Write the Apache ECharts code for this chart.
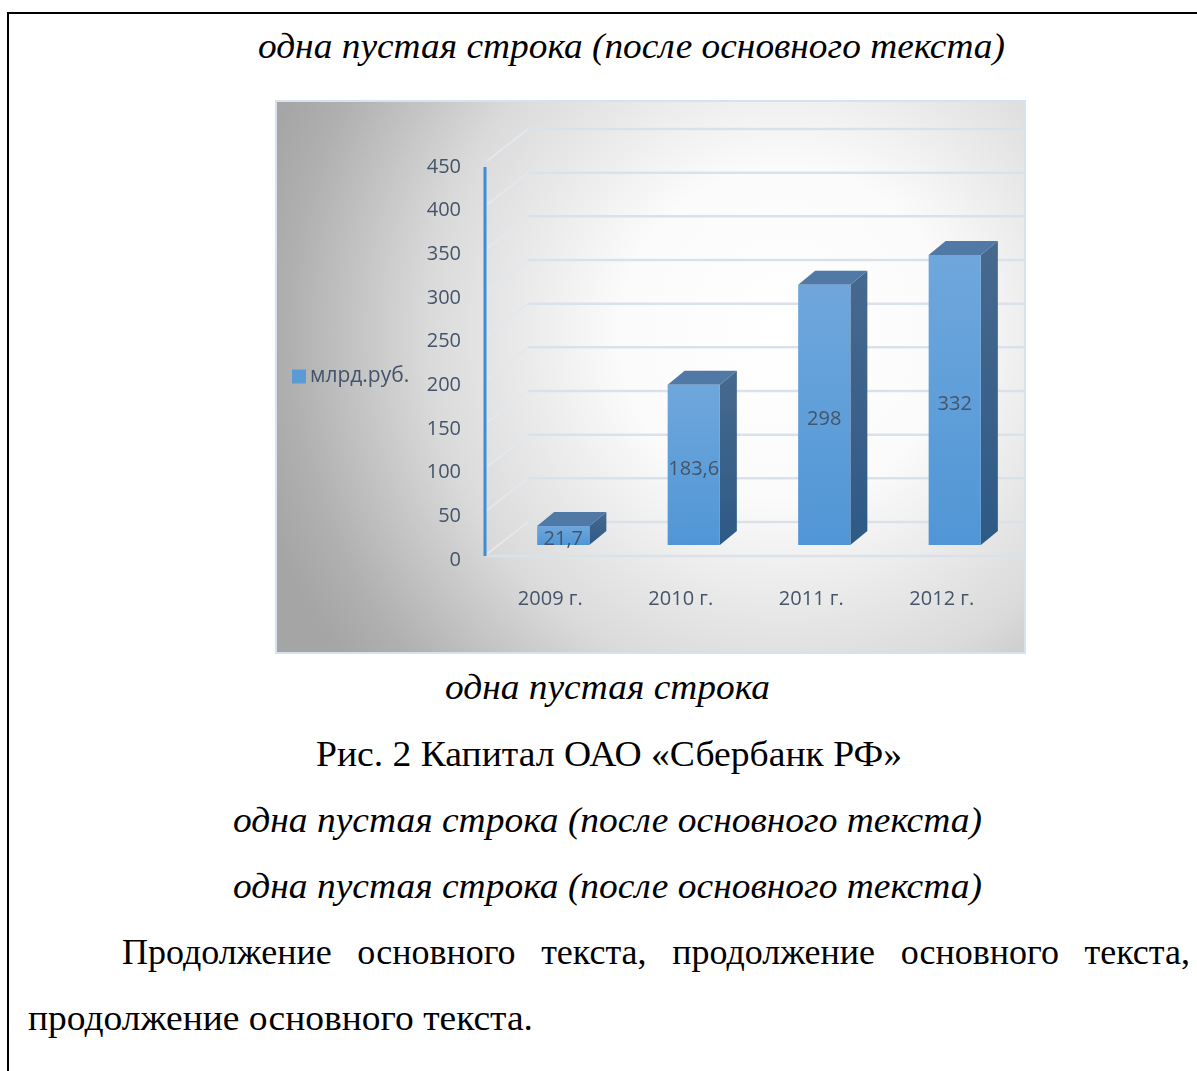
<!DOCTYPE html>
<html>
<head>
<meta charset="utf-8">
<script src="https://cdn.jsdelivr.net/npm/echarts@6/dist/echarts.min.js"></script>
<style>
  html, body { margin: 0; padding: 0; background: #ffffff; width: 1197px; height: 1071px; overflow: hidden; }
  #frame { position: absolute; left: 7px; top: 12px; width: 1300px; height: 1200px; border-top: 2px solid #000; border-left: 2px solid #000; }
  .ln { position: absolute; white-space: nowrap; font-family: "Liberation Serif", "Times New Roman", serif; font-size: 36px; line-height: normal; color: #000; transform-origin: 0 0; }
  .it { font-style: italic; }
  #chartBox { position: absolute; left: 275px; top: 100px; width: 751px; height: 554px; box-sizing: border-box; border: 2px solid #d6e2ee; }
  #chart { width: 747px; height: 550px; }
</style>
</head>
<body>
<div id="frame"></div>
<div id="chartBox"><div id="chart"></div></div>

<script>
// ---- chart data ----
const categories = ['2009 г.', '2010 г.', '2011 г.', '2012 г.'];
const values = [21.7, 183.6, 298, 332];
const seriesName = 'млрд.руб.';
const yTicks = [0, 50, 100, 150, 200, 250, 300, 350, 400, 450];

// ---- document text lines ----
const textLines = [
  { text: 'одна пустая строка (после основного текста)', italic: true, left: 258, right: 1005, baseline: 57 },
  { text: 'одна пустая строка', italic: true, left: 445, right: 770, baseline: 698 },
  { text: 'Рис. 2 Капитал ОАО «Сбербанк РФ»', italic: false, left: 316, right: 902, baseline: 765 },
  { text: 'одна пустая строка (после основного текста)', italic: true, left: 233, right: 982, baseline: 831 },
  { text: 'одна пустая строка (после основного текста)', italic: true, left: 233, right: 982, baseline: 897 },
  { text: 'Продолжение основного текста, продолжение основного текста,', italic: false, left: 122, right: 1190, baseline: 963, justify: true },
  { text: 'продолжение основного текста.', italic: false, left: 28, right: 533, baseline: 1029 }
];

textLines.forEach(function (l) {
  const d = document.createElement('div');
  d.className = 'ln' + (l.italic ? ' it' : '');
  d.textContent = l.text;
  d.style.left = l.left + 'px';
  d.style.top = (l.baseline - 32) + 'px';
  document.body.appendChild(d);
  const target = l.right - l.left;
  const natural = d.getBoundingClientRect().width;
  if (l.justify) {
    const spaces = (l.text.match(/ /g) || []).length;
    if (natural < target && spaces > 0) {
      d.style.wordSpacing = ((target - natural) / spaces) + 'px';
    } else {
      d.style.transform = 'scaleX(' + (target / natural) + ')';
    }
  } else {
    d.style.transform = 'scaleX(' + (target / natural) + ')';
  }
});

// ---- chart ----
const chart = echarts.init(document.getElementById('chart'), null, { renderer: 'canvas' });
const FONT = '"Open Sans", "Noto Sans", sans-serif';
const TXT = '#44546a';

// depth offsets (pixels) of the bar plane and back wall relative to the front axis plane
const BAR_OX = 13, BAR_OY = -15;
const BACK_OX = 43, BACK_OY = -38;
const FLOOR_OY = -4;
const SIDE_DX = 17, SIDE_DY = -14;

function fmt(v) { return String(v).replace('.', ','); }

chart.setOption({
  backgroundColor: new echarts.graphic.RadialGradient(0.68, 0.42, 1.0, [
    { offset: 0, color: '#ffffff' },
    { offset: 0.3, color: '#fbfbfb' },
    { offset: 0.65, color: '#dadada' },
    { offset: 0.9, color: '#b0b0b0' },
    { offset: 1, color: '#a5a5a5' }
  ]),
  animation: false,
  legend: {
    show: true,
    left: 15,
    top: 264,
    padding: 0,
    orient: 'vertical',
    itemWidth: 14,
    itemHeight: 14,
    icon: 'rect',
    itemGap: 6,
    textStyle: { fontFamily: FONT, fontSize: 21, color: TXT, padding: [0, 0, 0, -1] },
    data: [seriesName]
  },
  grid: { left: 208, top: 65, height: 393, width: 522 },
  xAxis: {
    type: 'category',
    data: categories,
    axisLine: { show: false },
    axisTick: { show: false },
    axisLabel: { margin: 29, fontFamily: FONT, fontSize: 20, color: TXT }
  },
  yAxis: {
    type: 'value',
    min: 0,
    max: 450,
    interval: 50,
    axisLine: { show: false },
    axisTick: { show: false },
    splitLine: { show: false },
    axisLabel: { margin: 24, fontFamily: FONT, fontSize: 20, color: TXT }
  },
  series: [
    {
      type: 'custom',
      name: 'grid',
      silent: true,
      z: 1,
      data: yTicks.map(function (t) { return [0, t]; }),
      encode: { x: 0, y: 1 },
      renderItem: function (params, api) {
        const v = api.value(1);
        const p = api.coord([0, v]);
        const gx = params.coordSys.x;
        const W = api.getWidth();
        const y = p[1];
        const children = [
          { type: 'line', shape: { x1: gx + BACK_OX, y1: y + BACK_OY, x2: W, y2: y + BACK_OY },
            style: { stroke: '#dbe1e9', lineWidth: 2.5 } },
          { type: 'line', shape: { x1: gx + BACK_OX, y1: y + BACK_OY, x2: gx + 2, y2: y + FLOOR_OY - 2 },
            style: { stroke: '#e3e8ee', lineWidth: 2 } }
        ];
        if (v === 0) {
          children.push({ type: 'line', shape: { x1: gx, y1: y + FLOOR_OY, x2: W, y2: y + FLOOR_OY },
            style: { stroke: '#dbe1e9', lineWidth: 2.5 } });
          children.push({ type: 'line', z2: 10, shape: { x1: gx, y1: y + FLOOR_OY, x2: gx, y2: params.coordSys.y },
            style: { stroke: '#3a8dd6', lineWidth: 3 } });
        }
        return { type: 'group', children: children };
      }
    },
    {
      type: 'custom',
      name: seriesName,
      z: 3,
      itemStyle: { color: '#5b9bd5' },
      data: values.map(function (v, i) { return [i, v]; }),
      encode: { x: 0, y: 1 },
      renderItem: function (params, api) {
        const idx = api.value(0), v = api.value(1);
        const base = api.coord([idx, 0]);
        const top = api.coord([idx, v]);
        const bw = api.size([1, 0])[0] * 0.4;
        const xl = base[0] + BAR_OX - bw / 2, xr = xl + bw;
        const yb = base[1] + BAR_OY, yt = top[1] + BAR_OY;
        const frontGrad = new echarts.graphic.LinearGradient(0, 0, 0, 1, [
          { offset: 0, color: '#6fa7dc' }, { offset: 1, color: '#5096d6' }
        ]);
        const sideGrad = new echarts.graphic.LinearGradient(0, 0, 0, 1, [
          { offset: 0, color: '#47698e' }, { offset: 1, color: '#2e5a86' }
        ]);
        return {
          type: 'group',
          children: [
            { type: 'polygon', shape: { points: [[xr, yt], [xr + SIDE_DX, yt + SIDE_DY], [xr + SIDE_DX, yb + SIDE_DY], [xr, yb]] },
              style: { fill: sideGrad } },
            { type: 'polygon', shape: { points: [[xl, yt], [xr, yt], [xr + SIDE_DX, yt + SIDE_DY], [xl + SIDE_DX, yt + SIDE_DY]] },
              style: { fill: '#5179a6' } },
            { type: 'rect', shape: { x: xl, y: yt, width: bw, height: yb - yt },
              style: { fill: frontGrad } },
            { type: 'text', x: xl + bw / 2, y: (yt + yb) / 2 + 4,
              style: { text: fmt(v), fontFamily: FONT, fontSize: 20, fill: TXT, align: 'center', verticalAlign: 'middle' } }
          ]
        };
      }
    }
  ]
});
</script>
</body>
</html>
